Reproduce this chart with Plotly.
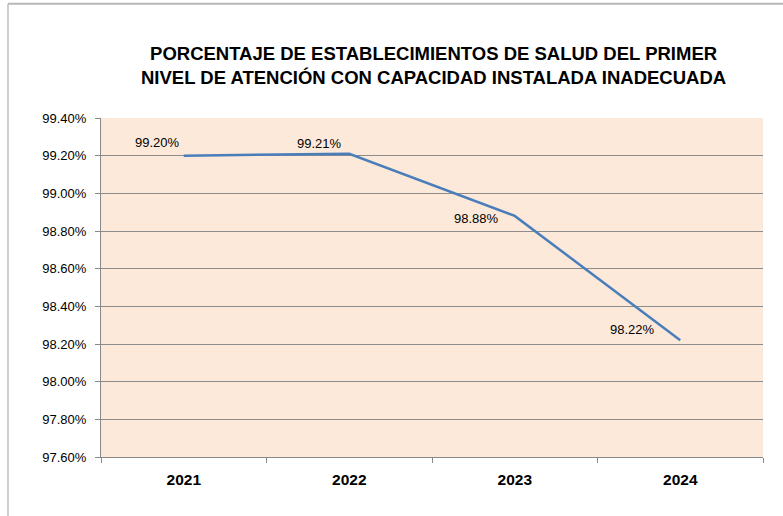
import plotly.graph_objects as go

years = ["2021", "2022", "2023", "2024"]
values = [99.20, 99.21, 98.88, 98.22]
labels = ["99.20%", "99.21%", "98.88%", "98.22%"]
y_ticks = [97.6, 97.8, 98.0, 98.2, 98.4, 98.6, 98.8, 99.0, 99.2, 99.4]
y_tick_text = ["97.60%", "97.80%", "98.00%", "98.20%", "98.40%", "98.60%", "98.80%", "99.00%", "99.20%", "99.40%"]
title_text = ("PORCENTAJE DE ESTABLECIMIENTOS DE SALUD DEL PRIMER<br>"
              "NIVEL DE ATENCIÓN CON CAPACIDAD INSTALADA INADECUADA")

label_shift_x = [-26, -30, -38, -48]
label_shift_y = [13, 10, -3, 11]

FONT = "Liberation Sans, Arial"

fig = go.Figure()
fig.add_trace(go.Scatter(
    x=years, y=values, mode="lines",
    line=dict(color="#4A7EBB", width=2.5),
    hoverinfo="skip", showlegend=False,
))

for i, (v, t, dx, dy) in enumerate(zip(values, labels, label_shift_x, label_shift_y)):
    fig.add_annotation(x=i, y=v, xref="x", yref="y", text=t, showarrow=False,
                       xshift=dx, yshift=dy,
                       font=dict(family=FONT, size=13, color="#000"))

fig.add_annotation(xref="paper", yref="paper", x=0.5, y=1.0, yshift=53,
                   text="<b>" + title_text + "</b>", showarrow=False,
                   font=dict(family=FONT, size=18.5, color="#000"),
                   align="center", yanchor="middle", xshift=1)

# outer chart border (left & top)
fig.add_shape(type="line", xref="paper", yref="paper",
              x0=-0.1405, x1=-0.1405, y0=-0.3, y1=1.337,
              line=dict(color="#B0B0B0", width=1.2))
fig.add_shape(type="line", xref="paper", yref="paper",
              x0=-0.1405, x1=1.05, y0=1.337, y1=1.337,
              line=dict(color="#B8B8B8", width=2))

fig.update_layout(
    width=783, height=516,
    margin=dict(l=101, r=20, t=118, b=59),
    paper_bgcolor="white",
    plot_bgcolor="#FDE9D9",
    showlegend=False,
    xaxis=dict(
        type="category", tickson="boundaries", ticks="outside", ticklen=5,
        tickcolor="#888888", showline=True, linecolor="#888888", linewidth=1,
        showgrid=False, range=[-0.5, 3.5], ticklabelstandoff=8,
        tickfont=dict(family=FONT, size=15.5, color="#000"),
        tickprefix="<b>", ticksuffix="</b>",
    ),
    yaxis=dict(
        range=[97.6, 99.4], tickvals=y_ticks, ticktext=y_tick_text,
        ticks="outside", ticklen=5, tickcolor="#888888",
        showline=True, linecolor="#888888", linewidth=1,
        showgrid=True, gridcolor="#8C8C8C", gridwidth=1, zeroline=False,
        ticklabelstandoff=6,
        tickfont=dict(family=FONT, size=13, color="#000"),
    ),
)

fig.write_html("out.html", config={"displayModeBar": False},
               post_script="document.body.style.margin='0';document.body.style.overflow='hidden';")
